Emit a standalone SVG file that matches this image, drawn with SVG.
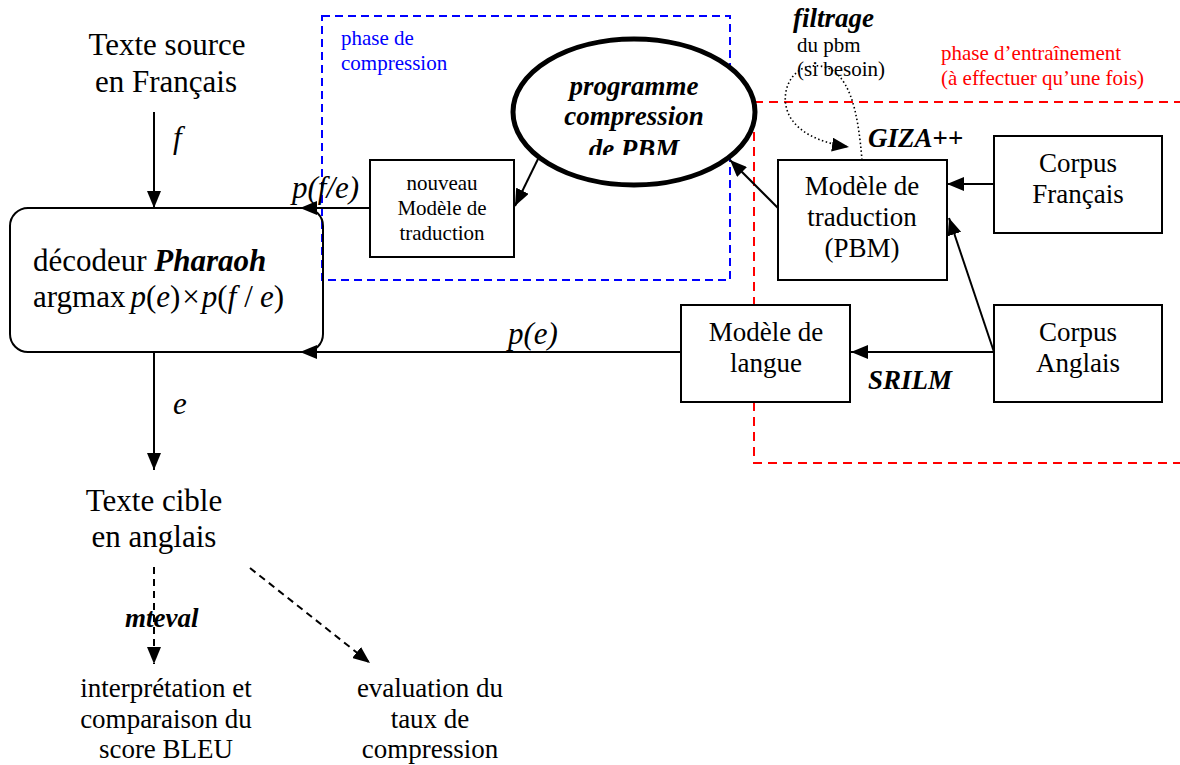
<svg xmlns="http://www.w3.org/2000/svg" width="1180" height="765" viewBox="0 0 1180 765" font-family="'Liberation Serif', 'Times New Roman', 'DejaVu Serif', serif">
<style>
text{font-family:'Liberation Serif','Times New Roman','DejaVu Serif',serif;fill:#000}
.big{font-size:31px}
.mid{font-size:27px}
.sm{font-size:21px}
.bi{font-weight:bold;font-style:italic}
.it{font-style:italic}
.box{fill:#fff;stroke:#000;stroke-width:2}
.ln{fill:none;stroke:#000;stroke-width:2}
.dash{fill:none;stroke:#000;stroke-width:2;stroke-dasharray:7 5}
.dot{fill:none;stroke:#000;stroke-width:1.6;stroke-dasharray:1.5 2.5}
.blue{fill:none;stroke:#0000ff;stroke-width:2;stroke-dasharray:8 5}
.red{fill:none;stroke:#ff0000;stroke-width:2;stroke-dasharray:9 6}
</style>
<defs>
<marker id="ah" markerUnits="userSpaceOnUse" markerWidth="18" markerHeight="14" refX="17" refY="7" orient="auto">
<path d="M0,0 L17,7 L0,14 z" fill="#000"/>
</marker>
<clipPath id="ellclip"><rect x="500" y="30" width="270" height="125"/></clipPath>
</defs>

<g id="regions">
<rect x="322" y="16" width="408" height="264" class="blue"/>
<text x="341" y="45" class="sm" style="fill:#0000ff">phase de</text>
<text x="341" y="70" class="sm" style="fill:#0000ff">compression</text>
<path d="M754,102 L1180,102 M754,102 L754,463 L1180,463" class="red"/>
<text x="941" y="60" class="sm" style="fill:#ff0000">phase d’entraînement</text>
<text x="941" y="85" class="sm" style="fill:#ff0000">(à effectuer qu’une fois)</text>
</g>

<g id="connectors">
<line x1="154" y1="112" x2="154" y2="208" class="ln" marker-end="url(#ah)"/>
<text x="173" y="148" class="big it">f</text>
<line x1="370" y1="208" x2="300" y2="208" class="ln" marker-end="url(#ah)"/>
<text x="292" y="198" class="big it">p(f/e)</text>
<line x1="538" y1="159" x2="515" y2="206" class="ln" marker-end="url(#ah)"/>
<line x1="778" y1="208" x2="730" y2="160" class="ln" marker-end="url(#ah)"/>
<line x1="994" y1="184" x2="947" y2="184" class="ln" marker-end="url(#ah)"/>
<line x1="994" y1="352" x2="949" y2="218" class="ln" marker-end="url(#ah)"/>
<line x1="994" y1="352" x2="851" y2="352" class="ln" marker-end="url(#ah)"/>
<text x="868" y="389" class="mid bi">SRILM</text>
<line x1="681" y1="352" x2="300" y2="352" class="ln" marker-end="url(#ah)"/>
<text x="508" y="344" class="big it">p(e)</text>
<line x1="154" y1="352" x2="154" y2="470" class="ln" marker-end="url(#ah)"/>
<text x="173" y="414" class="big it">e</text>
<path d="M862,160 C858,112 850,70 820,66 C795,63 782,86 786,106 C791,131 820,143 849,147" class="dot" marker-end="url(#ah)"/>
<text x="868" y="147" class="mid"><tspan class="bi">GIZA</tspan><tspan font-weight="bold">++</tspan></text>
<line x1="154" y1="567" x2="154" y2="664" class="dash" marker-end="url(#ah)"/>
<text x="125" y="627" class="mid bi">mteval</text>
<line x1="250" y1="568" x2="370" y2="663" class="dash" marker-end="url(#ah)"/>
</g>

<g id="source">
<text x="167" y="55" class="big" text-anchor="middle">Texte source</text>
<text x="166" y="92" class="big" text-anchor="middle">en Français</text>
</g>

<g id="decodeur">
<rect x="10" y="208" width="313" height="144" rx="18" ry="18" style="fill:none;stroke:#000;stroke-width:2"/>
<text x="33" y="271" class="big">décodeur <tspan class="bi">Pharaoh</tspan></text>
<text x="33" y="307" class="big">argmax<tspan class="it" dx="5">p</tspan>(<tspan class="it">e</tspan>)<tspan dx="2">×</tspan><tspan class="it" dx="2">p</tspan>(<tspan class="it">f</tspan><tspan dx="8">/</tspan><tspan class="it" dx="7">e</tspan>)</text>
</g>

<g id="nouveau">
<rect x="370" y="160" width="144" height="97" class="box"/>
<text x="442" y="190" class="sm" text-anchor="middle">nouveau</text>
<text x="442" y="215" class="sm" text-anchor="middle">Modèle de</text>
<text x="442" y="240" class="sm" text-anchor="middle">traduction</text>
</g>

<g id="programme">
<ellipse cx="634" cy="112" rx="121" ry="73" fill="#fff" stroke="#000" stroke-width="5"/>
<g clip-path="url(#ellclip)">
<text x="634" y="95" class="mid bi" text-anchor="middle">programme</text>
<text x="634" y="125" class="mid bi" text-anchor="middle">compression</text>
<text x="634" y="158" class="mid bi" text-anchor="middle">de PBM</text>
</g>
</g>

<g id="filtrage">
<text x="793" y="27" class="mid bi">filtrage</text>
<text x="797" y="52" class="sm">du pbm</text>
<text x="797" y="76" class="sm">(si besoin)</text>
</g>

<g id="pbm">
<rect x="778" y="160" width="169" height="120" class="box"/>
<text x="862" y="195" class="mid" text-anchor="middle">Modèle de</text>
<text x="862" y="226" class="mid" text-anchor="middle">traduction</text>
<text x="862" y="257" class="mid" text-anchor="middle">(PBM)</text>
</g>

<g id="corpus-fr">
<rect x="994" y="136" width="168" height="97" class="box"/>
<text x="1078" y="172" class="mid" text-anchor="middle">Corpus</text>
<text x="1078" y="203" class="mid" text-anchor="middle">Français</text>
</g>

<g id="langue">
<rect x="681" y="305" width="169" height="97" class="box"/>
<text x="766" y="341" class="mid" text-anchor="middle">Modèle de</text>
<text x="766" y="372" class="mid" text-anchor="middle">langue</text>
</g>

<g id="corpus-en">
<rect x="994" y="305" width="168" height="97" class="box"/>
<text x="1078" y="341" class="mid" text-anchor="middle">Corpus</text>
<text x="1078" y="372" class="mid" text-anchor="middle">Anglais</text>
</g>

<g id="cible">
<text x="154" y="511" class="big" text-anchor="middle">Texte cible</text>
<text x="154" y="547" class="big" text-anchor="middle">en anglais</text>
</g>

<g id="bleu">
<text x="166" y="697" class="mid" text-anchor="middle">interprétation et</text>
<text x="166" y="728" class="mid" text-anchor="middle">comparaison du</text>
<text x="166" y="758" class="mid" text-anchor="middle">score BLEU</text>
</g>

<g id="evaluation">
<text x="430" y="697" class="mid" text-anchor="middle">evaluation du</text>
<text x="430" y="728" class="mid" text-anchor="middle">taux de</text>
<text x="430" y="758" class="mid" text-anchor="middle">compression</text>
</g>
</svg>
